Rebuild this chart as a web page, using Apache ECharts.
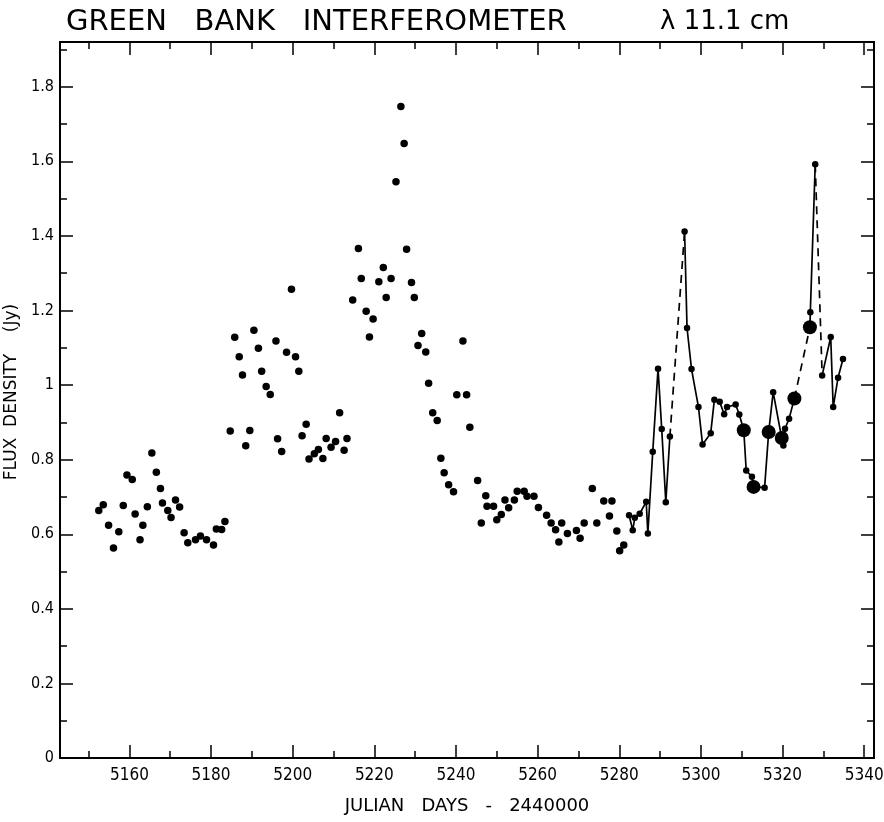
<!DOCTYPE html>
<html>
<head>
<meta charset="utf-8">
<script src="https://cdn.jsdelivr.net/npm/echarts@6/dist/echarts.min.js"></script>
<style>
html,body{margin:0;padding:0;background:#fff;}
#chart{width:884px;height:822px;}
</style>
</head>
<body>
<div id="chart"></div>
<script>
// Unconnected daily measurements (Julian day - 2440000, flux density in Jy)
const looseDays = [5152.5,5153.6,5154.9,5156.1,5157.4,5158.5,5159.4,5160.7,5161.4,5162.6,5163.3,5164.4,5165.5,5166.6,5167.6,5168.1,5169.4,5170.2,5171.3,5172.3,5173.4,5174.3,5176.2,5177.4,5178.9,5180.6,5181.3,5182.6,5183.4,
  5184.7,5185.8,5186.9,5187.7,5188.5,5189.5,5190.5,5191.6,5192.4,5193.5,5194.5,5195.9,5196.3,5197.3,5198.5,5199.7,5200.7,5201.5,5202.3,5203.3,5204.0,5205.3,5206.3,5207.4,5208.2,5209.4,5210.5,5211.5,5212.6,5213.3,
  5214.7,5216.1,5216.8,5218.0,5218.8,5219.7,5221.1,5222.2,5222.9,5224.1,5225.3,5226.5,5227.3,5227.9,5229.1,5229.8,5230.7,5231.6,5232.6,5233.3,5234.3,5235.4,5236.3,5237.1,5238.2,5239.4,5240.2,5241.7,5242.6,5243.4,
  5245.3,5246.2,5247.3,5247.6,5249.2,5250.0,5251.1,5252.0,5252.9,5254.3,5255.0,5256.7,5257.4,5259.1,5260.2,5262.2,5263.3,5264.4,5265.2,5265.9,5267.3,5269.5,5270.4,5271.4,5273.4,5274.5,5276.2,5277.6,5278.2,5279.4,5280.1,5281.1];
const looseFlux = [0.664,0.679,0.624,0.563,0.607,0.677,0.759,0.747,0.654,0.585,0.624,0.674,0.818,0.766,0.723,0.684,0.664,0.645,0.692,0.673,0.604,0.577,0.585,0.595,0.585,0.571,0.614,0.613,0.634,
  0.877,1.128,1.076,1.027,0.837,0.878,1.147,1.099,1.037,0.996,0.975,1.118,0.856,0.822,1.088,1.257,1.076,1.037,0.864,0.895,0.802,0.816,0.827,0.803,0.857,0.833,0.849,0.926,0.825,0.857,
  1.228,1.366,1.286,1.198,1.129,1.177,1.277,1.315,1.235,1.286,1.545,1.747,1.648,1.364,1.275,1.235,1.106,1.138,1.089,1.005,0.926,0.905,0.804,0.765,0.733,0.714,0.974,1.118,0.974,0.887,
  0.744,0.630,0.703,0.675,0.675,0.639,0.653,0.692,0.671,0.692,0.715,0.715,0.702,0.702,0.672,0.651,0.630,0.612,0.579,0.630,0.602,0.610,0.589,0.630,0.723,0.630,0.689,0.649,0.689,0.609,0.556,0.571];

// Connected measurements (last part of the record)
const linkedDays = [5282.4,5283.3,5283.8,5285.0,5286.6,5287.0,5288.2,5289.5,5290.4,5291.4,5292.4,5296.0,5296.6,5297.7,5299.4,5300.4,5302.4,5303.3,5304.6,5305.7,5306.4,5308.5,5309.4,5310.5,5311.1,5312.5,5312.9,5315.6,5316.6,5317.7,5319.8,5320.2,5320.6,5321.6,5322.9,5326.7,5326.8,5328.0,5329.7,5331.8,5332.4,5333.6,5334.8];
const linkedFlux = [0.651,0.611,0.644,0.655,0.687,0.602,0.821,1.044,0.882,0.686,0.862,1.412,1.153,1.043,0.941,0.841,0.871,0.961,0.955,0.922,0.941,0.948,0.921,0.879,0.771,0.754,0.727,0.725,0.874,0.981,0.858,0.838,0.883,0.910,0.964,1.155,1.195,1.592,1.026,1.129,0.941,1.020,1.070];
// indices of linked points drawn as large dots
const bigDotIndex = [23,26,28,30,34,35];
// segment from index i to i+1 drawn dashed
const dashedAfterIndex = [10,34,37];

// Tick values and labels
const xMajorTicks = [5160,5180,5200,5220,5240,5260,5280,5300,5320,5340];
const xMinorTicks = [5150,5170,5190,5210,5230,5250,5270,5290,5310,5330];
const yMajorTicks = [0,0.2,0.4,0.6,0.8,1.0,1.2,1.4,1.6,1.8];
const yTickLabels = ['0','0.2','0.4','0.6','0.8','1','1.2','1.4','1.6','1.8'];
const yMinorTicks = [0.1,0.3,0.5,0.7,0.9,1.1,1.3,1.5,1.7,1.9];

const X_MIN = 5143, X_MAX = 5342.4, Y_MIN = 0, Y_MAX = 1.92;
const FONT = "'Liberation Sans Narrow','DejaVu Sans Condensed','Liberation Sans',sans-serif";
const NAME_FONT = "'DejaVu Sans','Noto Sans',sans-serif";

function xAxisDef(pos, major, showLabel, showName){
  return {
    type:'value', position:pos, min:X_MIN, max:X_MAX,
    axisLine:{show:true, onZero:false, lineStyle:{color:'#000', width:2}},
    axisTick:{show:true, inside:true, length: major?13:7, customValues: major?xMajorTicks:xMinorTicks, lineStyle:{color:'#000', width:1.5}},
    axisLabel:{show:showLabel, customValues:xMajorTicks, color:'#000', fontFamily:FONT, fontSize:17, margin:9,
      formatter:function(v){ return String(Math.round(v)); }},
    splitLine:{show:false},
    name: showName ? 'JULIAN   DAYS   -   2440000' : '',
    nameLocation:'middle', nameGap:39,
    nameTextStyle:{color:'#000', fontFamily:NAME_FONT, fontSize:18}
  };
}
function yAxisDef(pos, major, showLabel, showName){
  return {
    type:'value', position:pos, min:Y_MIN, max:Y_MAX,
    axisLine:{show:true, onZero:false, lineStyle:{color:'#000', width:2}},
    axisTick:{show:true, inside:true, length: major?13:7, customValues: major?yMajorTicks:yMinorTicks, lineStyle:{color:'#000', width:1.5}},
    axisLabel:{show:showLabel, customValues:yMajorTicks, color:'#000', fontFamily:FONT, fontSize:16, margin:6,
      formatter:function(v){ const i = yMajorTicks.findIndex(t=>Math.abs(t-v)<1e-6); return i>=0?yTickLabels[i]:''; }},
    splitLine:{show:false},
    name: showName ? 'FLUX  DENSITY    (Jy)' : '',
    nameLocation:'middle', nameGap:36,
    nameTextStyle:{color:'#000', fontFamily:NAME_FONT, fontSize:17, padding:[0,0,0,16]}
  };
}

// Build line segments (solid / dashed runs)
const runs = [];
for (let i=0;i<linkedDays.length-1;i++){
  const dashed = dashedAfterIndex.indexOf(i) >= 0;
  const last = runs[runs.length-1];
  const p1 = [linkedDays[i+1], linkedFlux[i+1]];
  if (last && last.dashed === dashed) last.pts.push(p1);
  else runs.push({dashed:dashed, pts:[[linkedDays[i], linkedFlux[i]], p1]});
}
const lineSeries = runs.map(r => ({
  type:'line', data:r.pts, symbol:'none', xAxisIndex:0, yAxisIndex:0, z:2, silent:true,
  lineStyle:{color:'#000', width:1.7, opacity:1, type: r.dashed ? [8,6] : 'solid'}
}));

const looseData = looseDays.map((d,i)=>[d, looseFlux[i]]);
const smallLinked = [], bigLinked = [];
linkedDays.forEach((d,i)=>{ (bigDotIndex.indexOf(i)>=0 ? bigLinked : smallLinked).push([d, linkedFlux[i]]); });

const chart = echarts.init(document.getElementById('chart'), null, {renderer:'canvas'});
chart.setOption({
  backgroundColor:'#fff',
  animation:false,
  title:[
    {text:'GREEN   BANK   INTERFEROMETER', left:61, top:3,
      textStyle:{color:'#000', fontFamily:NAME_FONT, fontSize:29, fontWeight:'normal'}},
    {text:'λ 11.1 cm', left:655, top:4,
      textStyle:{color:'#000', fontFamily:NAME_FONT, fontSize:26, fontWeight:'normal'}}
  ],
  grid:{left:60, right:10, top:42, bottom:64, containLabel:false, outerBoundsMode:'none'},
  xAxis:[ xAxisDef('bottom',true,true,true), xAxisDef('bottom',false,false,false), xAxisDef('top',true,false,false), xAxisDef('top',false,false,false) ],
  yAxis:[ yAxisDef('left',true,true,true), yAxisDef('left',false,false,false), yAxisDef('right',true,false,false), yAxisDef('right',false,false,false) ],
  series: lineSeries.concat([
    {type:'scatter', data:looseData, symbol:'circle', symbolSize:7.5, itemStyle:{color:'#000', opacity:1}, z:3, silent:true},
    {type:'scatter', data:smallLinked, symbol:'circle', symbolSize:6.5, itemStyle:{color:'#000', opacity:1}, z:3, silent:true},
    {type:'scatter', data:bigLinked, symbol:'circle', symbolSize:14, itemStyle:{color:'#000', opacity:1}, z:4, silent:true}
  ])
});
</script>
</body>
</html>
